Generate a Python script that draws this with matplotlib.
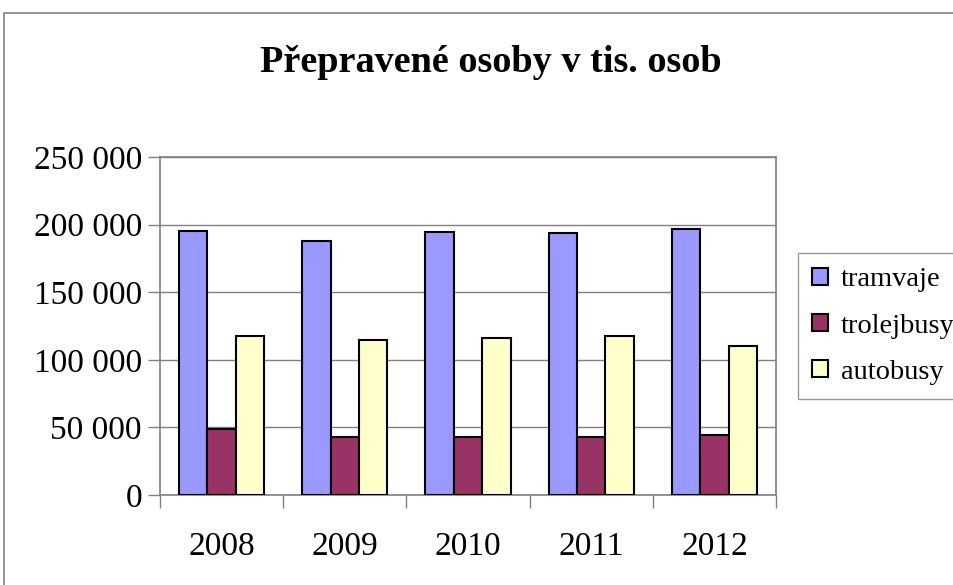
import matplotlib.pyplot as plt
import numpy as np
from matplotlib.patches import Rectangle
from matplotlib.ticker import FuncFormatter, FixedLocator

plt.rcParams['font.family'] = ['Liberation Serif', 'DejaVu Serif']

# data
roky = ['2008', '2009', '2010', '2011', '2012']
tramvaje = [195400, 188000, 194200, 193900, 196900]
trolejbusy = [48500, 42900, 42900, 42900, 44300]
autobusy = [117800, 114800, 116100, 117800, 110200]
serie = [('tramvaje', tramvaje, '#9999FF'),
         ('trolejbusy', trolejbusy, '#993366'),
         ('autobusy', autobusy, '#FFFFCC')]

fig = plt.figure(figsize=(9.54, 5.85), dpi=100)

# vnejsi ramecek grafu
fig.patches.append(Rectangle((4 / 954, -0.1), 1.2, 1 - 13 / 585 + 0.1,
                             transform=fig.transFigure, fill=False,
                             edgecolor='#808080', linewidth=1.2))

ax = fig.add_axes([160 / 954, 1 - 495 / 585, 616 / 954, 338 / 585])

x = np.arange(len(roky))
w = 0.23
for i, (nazev, hodnoty, barva) in enumerate(serie):
    ax.bar(x + (i - 1) * w, hodnoty, w, color=barva, edgecolor='black',
           linewidth=1.5, label=nazev, zorder=3)

ax.set_xlim(-0.5, len(roky) - 0.5)
ax.set_ylim(0, 250000)
ax.set_yticks(np.arange(0, 250001, 50000))
ax.yaxis.set_major_formatter(FuncFormatter(lambda v, p: f'{int(v):,}'.replace(',', ' ')))
ax.grid(axis='y', color='#808080', linewidth=1, zorder=0)

ax.set_xticks(x)
ax.set_xticklabels(roky)
ax.xaxis.set_minor_locator(FixedLocator(np.arange(-0.5, len(roky), 1)))
ax.tick_params(axis='x', which='major', length=0, pad=26, labelsize=24)
ax.tick_params(axis='x', which='minor', length=9, color='#808080', width=1)
ax.tick_params(axis='y', length=9, color='#808080', width=1, labelsize=24, pad=4)

for s in ax.spines.values():
    s.set_color('#808080')
    s.set_linewidth(1.2)

fig.text(491 / 954, 1 - 63 / 585, 'Přepravené osoby v tis. osob', ha='center',
         va='center', fontsize=27.5, fontweight='bold')

fig.legend(loc='upper left', bbox_to_anchor=(798 / 954, 1 - 253 / 585),
           fontsize=20.5, frameon=True, fancybox=False, edgecolor='#808080',
           handlelength=0.55, handleheight=0.55, handletextpad=0.45,
           labelspacing=0.75, borderpad=0.5, borderaxespad=0)

fig.savefig('out.png', dpi=100)
